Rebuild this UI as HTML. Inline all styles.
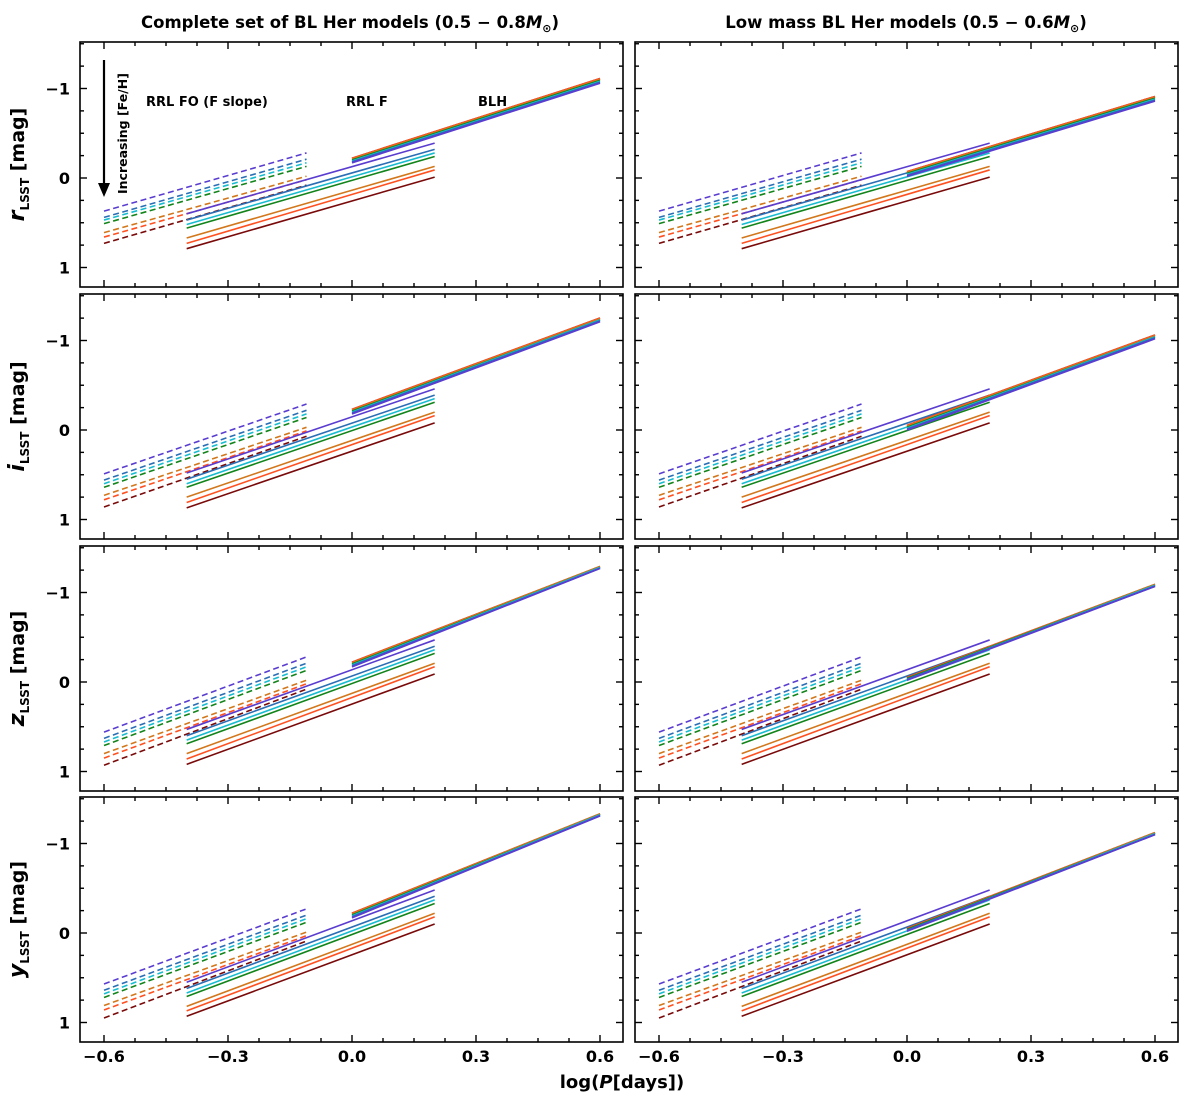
<!DOCTYPE html>
<html><head><meta charset="utf-8"><style>
body{margin:0;background:#fff;}
svg{display:block;font-family:"DejaVu Sans","Liberation Sans",sans-serif;}
</style></head><body>
<svg id="chart" width="1200" height="1094" viewBox="0 0 1200 1094" xmlns="http://www.w3.org/2000/svg">
<text x="350" y="28" font-size="16.5" font-weight="bold" text-anchor="middle">Complete set of BL Her models (0.5 − 0.8<tspan font-style="italic">M</tspan><tspan font-size="11" dy="4">⊙</tspan><tspan dy="-4">)</tspan></text>
<text x="906" y="28" font-size="16.5" font-weight="bold" text-anchor="middle">Low mass BL Her models (0.5 − 0.6<tspan font-style="italic">M</tspan><tspan font-size="11" dy="4">⊙</tspan><tspan dy="-4">)</tspan></text>
<text x="622" y="1088" font-size="18" font-weight="bold" text-anchor="middle">log(<tspan font-style="italic">P</tspan>[days])</text>
<g id="plots"></g>
</svg>
<script>
const colors=['#5a3dd0','#2a6eb5','#17bcd0','#12841a','#d2771b','#ff5020','#7a0a0a'];
const bands=['r','i','z','y'];
const foStart={r:[0.37,0.44,0.47,0.51,0.61,0.66,0.73],i:[0.49,0.56,0.60,0.64,0.73,0.78,0.86],z:[0.56,0.63,0.67,0.71,0.80,0.85,0.93],y:[0.57,0.64,0.68,0.72,0.81,0.86,0.95]};
const foEnd={r:[-0.28,-0.21,-0.17,-0.13,-0.02,0.02,0.08],i:[-0.29,-0.22,-0.18,-0.14,-0.03,0.01,0.07],z:[-0.28,-0.21,-0.17,-0.13,-0.02,0.02,0.08],y:[-0.27,-0.20,-0.16,-0.12,-0.01,0.03,0.09]};
const fStart={r:[0.40,0.47,0.52,0.56,0.67,0.73,0.79],i:[0.48,0.55,0.60,0.64,0.75,0.81,0.87],z:[0.53,0.60,0.65,0.69,0.80,0.86,0.92],y:[0.55,0.62,0.67,0.71,0.82,0.87,0.93]};
const fEnd={r:[-0.39,-0.32,-0.28,-0.24,-0.13,-0.09,-0.01],i:[-0.46,-0.39,-0.35,-0.31,-0.20,-0.16,-0.08],z:[-0.47,-0.40,-0.36,-0.32,-0.21,-0.17,-0.09],y:[-0.48,-0.41,-0.37,-0.33,-0.22,-0.18,-0.10]};
const blhStartL={r:[-0.17,-0.18,-0.19,-0.20,-0.21,-0.22,-0.22],i:[-0.18,-0.19,-0.20,-0.21,-0.22,-0.23,-0.23],z:[-0.17,-0.18,-0.19,-0.20,-0.21,-0.22,-0.22],y:[-0.17,-0.18,-0.19,-0.20,-0.21,-0.22,-0.22]};
const blhEndL={r:[-1.06,-1.07,-1.08,-1.09,-1.10,-1.11,-1.11],i:[-1.21,-1.22,-1.23,-1.23,-1.24,-1.25,-1.25],z:[-1.27,-1.27,-1.28,-1.28,-1.29,-1.29,-1.29],y:[-1.31,-1.31,-1.32,-1.32,-1.33,-1.33,-1.33]};
const blhStartR={r:[-0.02,-0.03,-0.04,-0.05,-0.06,-0.07,-0.07],i:[0.00,-0.01,-0.02,-0.03,-0.04,-0.05,-0.05],z:[-0.02,-0.03,-0.03,-0.04,-0.04,-0.05,-0.05],y:[-0.02,-0.03,-0.03,-0.04,-0.04,-0.05,-0.05]};
const blhEndR={r:[-0.86,-0.87,-0.88,-0.89,-0.90,-0.91,-0.91],i:[-1.02,-1.03,-1.04,-1.04,-1.05,-1.06,-1.06],z:[-1.07,-1.07,-1.08,-1.08,-1.09,-1.09,-1.09],y:[-1.10,-1.10,-1.11,-1.11,-1.12,-1.12,-1.12]};
const xTicks=[-0.6,-0.3,0.0,0.3,0.6];
const xTickLabels=['−0.6','−0.3','0.0','0.3','0.6'];
const yTicks=[-1,0,1];
const yTickLabels=['−1','0','1'];
const rowTops=[42,294,546,797];
const colLefts=[80,635];
const W=543,H=245;
const NS='http://www.w3.org/2000/svg';
const root=document.getElementById('plots');
function el(tag,attrs,parent){const e=document.createElementNS(NS,tag);for(const k in attrs)e.setAttribute(k,attrs[k]);(parent||root).appendChild(e);return e;}
function xs(left,v){return left+24+(v+0.6)/1.2*496;}
function ys(top,m){return top+136+m*89.5;}
bands.forEach((b,ri)=>{
  const top=rowTops[ri];
  colLefts.forEach((left,ci)=>{
    const g=el('g',{});
    
    
    const clip='c'+ri+ci;
    const cp=el('clipPath',{id:clip},g);el('rect',{x:left,y:top,width:W,height:H},cp);
    const lg=el('g',{'clip-path':'url(#'+clip+')'},g);
    for(let s=0;s<7;s++){
      const l=el('line',{x1:xs(left,-0.6),y1:ys(top,foStart[b][s]),x2:xs(left,-0.11),y2:ys(top,foEnd[b][s]),stroke:colors[s],'stroke-width':1.6,'stroke-dasharray':'6,3.5'},lg);
      
      
    }
    for(let s=0;s<7;s++){
      const l=el('line',{x1:xs(left,-0.4),y1:ys(top,fStart[b][s]),x2:xs(left,0.2),y2:ys(top,fEnd[b][s]),stroke:colors[s],'stroke-width':1.6},lg);
      
      
    }
    const bs=ci?blhStartR:blhStartL, be=ci?blhEndR:blhEndL;
    for(let s=6;s>=0;s--){
      const l=el('line',{x1:xs(left,0),y1:ys(top,bs[b][s]),x2:xs(left,0.6),y2:ys(top,be[b][s]),stroke:colors[s],'stroke-width':1.8},lg);
      
      
    }
    for(let v=-0.6;v<=0.6001;v+=0.075){
      const maj=Math.abs(v/0.3-Math.round(v/0.3))<1e-6;const L=maj?7:4;const x=xs(left,v);
      el('line',{x1:x,y1:top,x2:x,y2:top+L,stroke:'#000','stroke-width':1.4},g);
      el('line',{x1:x,y1:top+H,x2:x,y2:top+H-L,stroke:'#000','stroke-width':1.4},g);
    }
    for(let m=-1.5;m<=1.2;m+=0.25){
      const maj=Math.abs(m-Math.round(m))<1e-6;const L=maj?7:4;const y=ys(top,m);
      el('line',{x1:left,y1:y,x2:left+L,y2:y,stroke:'#000','stroke-width':1.4},g);
      el('line',{x1:left+W,y1:y,x2:left+W-L,y2:y,stroke:'#000','stroke-width':1.4},g);
    }
    const fr=el('rect',{x:left,y:top,width:W,height:H,fill:'none',stroke:'#000','stroke-width':1.6},g);
    
    
    if(ci===0){
      yTicks.forEach((t,k)=>{const tx=el('text',{x:left-10,y:ys(top,t)+6,'font-size':16,'font-weight':'bold','text-anchor':'end'},g);tx.textContent=yTickLabels[k];
        
        });
      const yl=el('text',{transform:'translate(24,'+(top+H/2)+') rotate(-90)','font-size':19,'font-weight':'bold','text-anchor':'middle'},g);
      yl.innerHTML='<tspan font-style="italic" font-size="22">'+b+'</tspan><tspan font-size="12" dy="5">LSST</tspan><tspan dy="-5"> [mag]</tspan>';
      
      
    }
    if(ri===3){
      xTicks.forEach((t,k)=>{const tx=el('text',{x:xs(left,t),y:top+H+20,'font-size':16,'font-weight':'bold','text-anchor':'middle'},g);tx.textContent=xTickLabels[k];
        
        });
    }
  });
});
const ann=el('g',{});


el('line',{x1:104,y1:60,x2:104,y2:185,stroke:'#000','stroke-width':2.2},ann);
el('polygon',{points:'98,183 110,183 104,197',fill:'#000'},ann);
const inc=el('text',{transform:'translate(127,194) rotate(-90)','font-size':12.5,'font-weight':'bold'},ann);inc.textContent='Increasing [Fe/H]';
[['RRL FO (F slope)',146],['RRL F',346],['BLH',478]].forEach(a=>{const t=el('text',{x:a[1],y:106,'font-size':13,'font-weight':'bold'},ann);t.textContent=a[0];
  
  });
</script>
</body></html>
